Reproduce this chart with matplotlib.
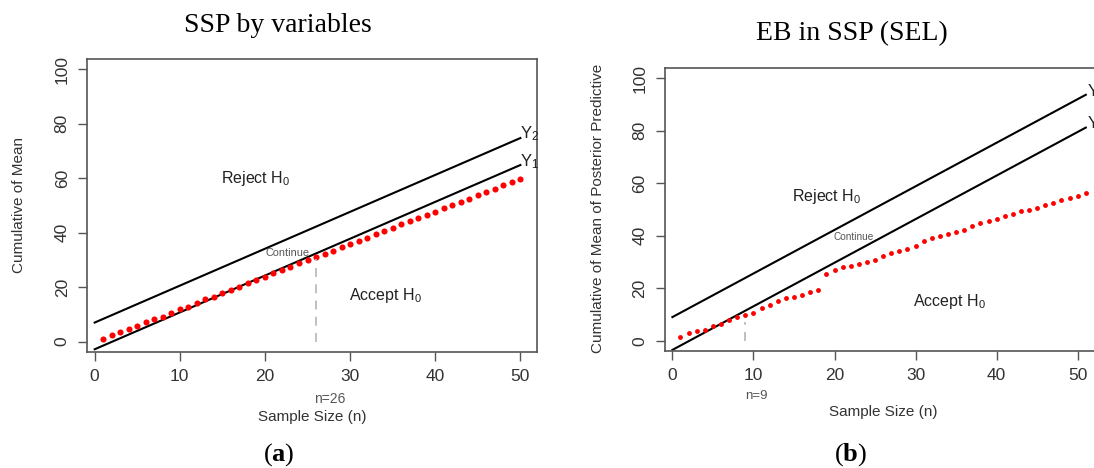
import matplotlib.pyplot as plt

plt.rcParams['font.family'] = ['Liberation Sans', 'DejaVu Sans']
plt.rcParams['mathtext.fontset'] = 'custom'
plt.rcParams['mathtext.rm'] = 'Liberation Sans'
plt.rcParams['mathtext.it'] = 'Liberation Sans'
plt.rcParams['mathtext.bf'] = 'Liberation Serif:bold'

# panel (a): SSP by variables
a_n = list(range(1, 51))
a_mean = [1.0, 2.5, 3.4, 4.5, 5.8, 7.1, 8.2, 9.2, 10.6, 11.9,
          12.8, 14.1, 15.5, 16.5, 17.7, 19.0, 20.2, 21.4, 22.7, 23.7,
          25.1, 26.3, 27.3, 28.8, 30.0, 31.0, 32.2, 33.3, 34.6, 35.8,
          37.0, 38.1, 39.4, 40.6, 41.8, 43.0, 44.1, 45.4, 46.5, 47.7,
          48.9, 50.1, 51.3, 52.5, 53.7, 54.9, 56.0, 57.3, 58.5, 59.7]
a_line_n = [0, 50]
a_y2 = [7.0, 74.7]
a_y1 = [-2.8, 64.8]
a_stop = 26

# panel (b): EB in SSP (SEL)
b_n = list(range(1, 52))
b_mean = [1.3, 2.8, 3.7, 4.1, 5.6, 6.2, 7.9, 9.2, 9.8, 10.7,
          12.3, 13.6, 15.1, 16.1, 16.5, 17.4, 18.4, 19.4, 25.4, 26.9,
          28.2, 28.6, 29.2, 30.1, 30.8, 32.3, 33.3, 34.3, 34.8, 36.2,
          37.9, 39.0, 39.9, 40.7, 41.3, 42.2, 43.7, 44.7, 45.6, 46.3,
          47.5, 48.3, 49.4, 49.8, 50.5, 51.7, 52.4, 53.6, 54.3, 55.2, 56.2]
b_line_n = [0, 51]
b_y2 = [9.0, 93.7]
b_y1 = [-3.5, 81.2]
b_stop = 9

W, H = 1094, 468
fig = plt.figure(figsize=(W / 100, H / 100), dpi=100)


def px(x, y):
    return x / W, 1 - y / H


def style(ax):
    for s in ax.spines.values():
        s.set_color('#555555')
        s.set_linewidth(1.2)
    ax.tick_params(direction='out', length=6.5, width=1.0, color='#555555',
                   labelsize=12.5, labelcolor='#333333', pad=6)
    ax.set_xticks(range(0, 51, 10))
    ax.set_yticks(range(0, 101, 20))
    for lab in ax.get_yticklabels():
        lab.set_rotation(90)
        lab.set_va('center')


txt = dict(fontsize=11.5, color='#222222', ha='center', va='center')

# ---- (a)
ax1 = fig.add_axes([87 / W, 1 - 352 / H, 450.4 / W, 293 / H])
ax1.plot(a_line_n, a_y2, color='black', lw=1.5)
ax1.plot(a_line_n, a_y1, color='black', lw=1.5)
ax1.plot(a_n, a_mean, ls='', marker='o', ms=4.4, mew=0, color='red')
ax1.plot([a_stop, a_stop], [0, 30.5], color='#bbbbbb', lw=1.3, ls=(0, (5, 4)))
ax1.set_xlim(-0.9, 52)
ax1.set_ylim(-3.8, 103.7)
style(ax1)
ax1.text(18.95, 59.9, 'Reject H$_0$', **txt)
ax1.text(34.1, 16.8, 'Accept H$_0$', **txt)
ax1.text(22.65, 32.6, 'Continue', fontsize=7.8, color='#555555', ha='center', va='center')
ax1.text(49.9, 76.3, 'Y$_2$', fontsize=12, color='#222222', ha='left', va='center', clip_on=False)
ax1.text(49.9, 66.2, 'Y$_1$', fontsize=12, color='#222222', ha='left', va='center', clip_on=False)

# ---- (b)
ax2 = fig.add_axes([664.6 / W, 1 - 350.7 / H, 437 / W, 282.7 / H])
ax2.plot(b_line_n, b_y2, color='black', lw=1.5)
ax2.plot(b_line_n, b_y1, color='black', lw=1.5)
ax2.plot(b_n, b_mean, ls='', marker='o', ms=3.5, mew=0, color='red')
ax2.plot([b_stop, b_stop], [0, 7.3], color='#bbbbbb', lw=1.3, ls=(0, (5, 4)))
ax2.set_xlim(-0.96, 52.95)
ax2.set_ylim(-3.8, 103.9)
style(ax2)
ax2.text(19.0, 55.1, 'Reject H$_0$', **txt)
ax2.text(34.2, 15.1, 'Accept H$_0$', **txt)
ax2.text(22.4, 39.6, 'Continue', fontsize=7.2, color='#555555', ha='center', va='center')
ax2.text(51.2, 95.0, 'Y$_2$', fontsize=12, color='#222222', ha='left', va='center', clip_on=False)
ax2.text(51.2, 82.6, 'Y$_1$', fontsize=12, color='#222222', ha='left', va='center', clip_on=False)

# axis labels and notes
fig.text(*px(19, 205), 'Cumulative of Mean', rotation=90, fontsize=11,
         color='#333333', ha='center', va='center')
fig.text(*px(312, 417), 'Sample Size (n)', fontsize=11, color='#333333', ha='center', va='center')
fig.text(*px(330, 399), 'n=26', fontsize=10, color='#555555', ha='center', va='center')
fig.text(*px(598, 208), 'Cumulative of Mean of Posterior Predictive', rotation=90, fontsize=11,
         color='#333333', ha='center', va='center')
fig.text(*px(883, 412), 'Sample Size (n)', fontsize=11, color='#333333', ha='center', va='center')
fig.text(*px(756, 396), 'n=9', fontsize=9.5, color='#555555', ha='center', va='center')

# titles and captions
fig.text(*px(278, 26), 'SSP by variables', family='Liberation Serif', fontsize=20,
         ha='center', va='center')
fig.text(*px(852, 34), 'EB in SSP (SEL)', family='Liberation Serif', fontsize=20,
         ha='center', va='center')
fig.text(*px(279, 455), r'($\mathbf{a}$)', family='Liberation Serif', fontsize=19,
         ha='center', va='center')
fig.text(*px(851, 455), r'($\mathbf{b}$)', family='Liberation Serif', fontsize=19,
         ha='center', va='center')

fig.savefig('out.png', dpi=100)
